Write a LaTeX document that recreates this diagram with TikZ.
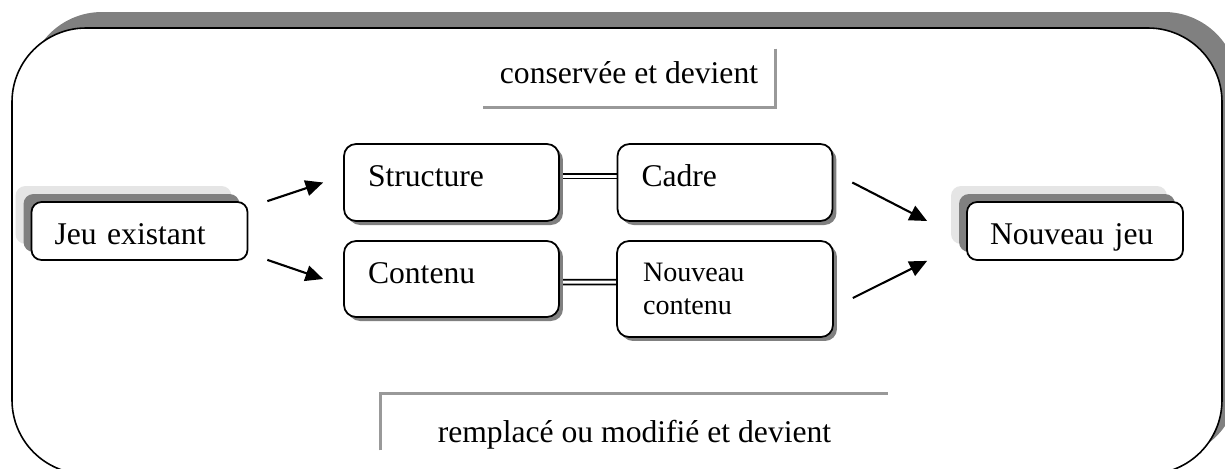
\documentclass[tikz,border=0pt]{standalone}
\usepackage{fontspec}
\setmainfont{Liberation Serif}
\usepackage{tikz}
\usetikzlibrary{arrows.meta}
\usetikzlibrary{backgrounds,shadows}
\pgfdeclarelayer{edgelayer}
\pgfdeclarelayer{nodelayer}
\pgfsetlayers{background,edgelayer,nodelayer,main}
\tikzstyle{none}=[inner sep=0mm]
\tikzstyle{frame}=[draw=black,line width=0.9pt,fill=white,rounded corners=1.48cm]
\tikzstyle{frame shadow}=[fill=black!50,rounded corners=1.48cm]
\tikzstyle{game}=[draw=black,line width=1pt,fill=white,rounded corners=0.2cm,minimum height=1.16cm,inner xsep=0.46cm,text width=3.4cm,align=left,text height=15pt,text depth=0pt,font=\fontsize{18pt}{21pt}\selectfont]
\tikzstyle{part}=[draw=black,line width=1pt,fill=white,rounded corners=0.24cm,inner xsep=0.48cm,text width=3.34cm,align=left,font=\fontsize{18pt}{21pt}\selectfont]
\tikzstyle{label box}=[inner sep=0pt,font=\fontsize{18pt}{21pt}\selectfont]
\tikzstyle{gray line}=[draw=black!40,line width=1.6pt]
\tikzstyle{link}=[double,double distance=0.06cm,line width=1pt]
\tikzstyle{arr}=[-{Triangle[length=10pt,width=9pt]},line width=1.2pt]
\tikzset{
	game/.append style={general shadow={fill=black!10,shadow xshift=-0.32cm,shadow yshift=0.32cm},general shadow={fill=black!50,shadow xshift=-0.16cm,shadow yshift=0.16cm}},
	part/.append style={general shadow={fill=black!50,shadow xshift=0.08cm,shadow yshift=-0.08cm}}
}
\begin{document}
\begin{tikzpicture}[x=0.02cm,y=-0.02cm]
	\useasboundingbox (0,0) rectangle (1225,468);
	\clip (0,0) rectangle (1225,468);
	\begin{pgfonlayer}{background}
		\fill [style=frame shadow] (28,12) rectangle (1238,458);
		\draw [style=frame] (12,28) rectangle (1222,474);
	\end{pgfonlayer}
	\begin{pgfonlayer}{nodelayer}
		\node [style=game] (0) at (139.5,231) {Jeu existant};
		\node [style=part,minimum height=1.54cm,text height=12.5pt,text depth=7.4pt] (1) at (451.5,182.5) {Structure};
		\node [style=part,minimum height=1.52cm,text height=12.5pt,text depth=7.4pt] (2) at (451.5,279) {Contenu};
		\node [style=part,minimum height=1.54cm,text height=12.5pt,text depth=7.4pt] (3) at (725,182.5) {Cadre};
		\node [style=part,minimum height=1.92cm,inner xsep=0.52cm,text width=3.28cm,font=\fontsize{16pt}{19pt}\selectfont] (4) at (725,289) {Nouveau\\contenu};
		\node [style=game] (5) at (1075,231) {Nouveau jeu};
		\node [style=label box,minimum width=5.84cm,minimum height=1.16cm,text height=12.5pt,text depth=6.5pt] (6) at (629,78) {conservée et devient};
		\node [style=label box,minimum width=10.14cm,minimum height=1.12cm,text height=23pt,text depth=0pt] (7) at (634.5,422) {remplacé ou modifié et devient};
	\end{pgfonlayer}
	\begin{pgfonlayer}{edgelayer}
		\draw [style=gray line] (6.north east) -- (6.south east) -- (6.south west);
		\draw [style=gray line] (7.south west) -- (7.north west) -- (7.north east);
		\draw [style=link] ([yshift=0.13cm]1.east) -- ([yshift=0.13cm]3.west);
		\draw [style=link] ([yshift=-0.06cm]2.east) -- ([yshift=0.14cm]4.west);
		\draw [style=arr] ([xshift=0.38cm]0.north east) -- ([xshift=-0.4cm]1.west);
		\draw [style=arr] ([xshift=0.38cm,yshift=0.02cm]0.south east) -- ([xshift=-0.4cm]2.west);
		\draw [style=arr] ([xshift=0.38cm]3.east) -- ([xshift=-0.78cm,yshift=0.2cm]5.west);
		\draw [style=arr] ([xshift=0.38cm,yshift=-0.18cm]4.east) -- ([xshift=-0.78cm]5.south west);
	\end{pgfonlayer}
\end{tikzpicture}
\end{document}
